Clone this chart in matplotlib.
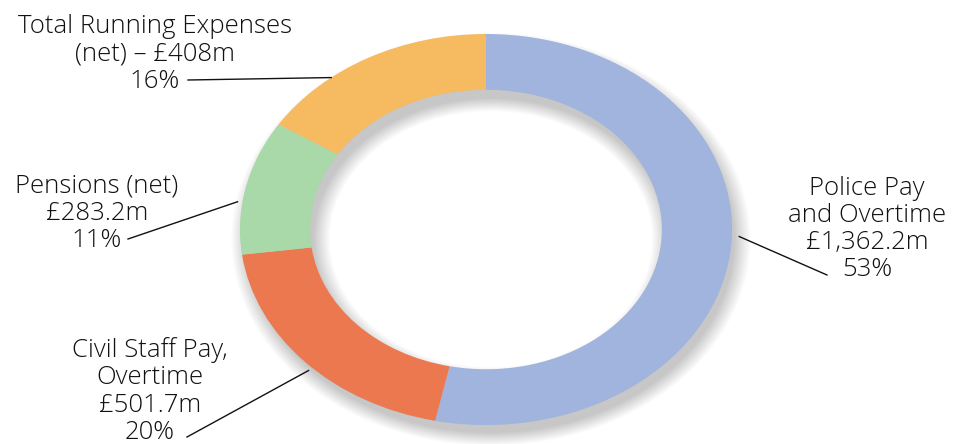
import matplotlib.pyplot as plt
import numpy as np

# Spending breakdown (£m)
labels = ['Police Pay\nand Overtime\n£1,362.2m\n53%',
          'Civil Staff Pay,\nOvertime\n£501.7m\n20%',
          'Pensions (net)\n£283.2m\n11%',
          'Total Running Expenses\n(net) – £408m\n16%']
values = [1362.2, 501.7, 283.2, 408.0]
colors = ['#A0B4DE', '#EC7850', '#A9D9A9', '#F6BB60']

plt.rcParams['font.family'] = ['Open Sans', 'DejaVu Sans']

fig = plt.figure(figsize=(9.62, 4.44), dpi=100)
ax = fig.add_axes([0, 0, 1, 1])

# soft drop shadow: grey rings shifted down-right
for i in range(14):
    ax.pie([1], radius=0.99 + 0.005 * i, startangle=90, colors=['#000000'],
           center=(0.02, -0.05),
           wedgeprops=dict(width=0.27 + 0.01 * i, alpha=0.014, linewidth=0))

wedges, _ = ax.pie(values, radius=1.0, startangle=90, counterclock=False,
                   colors=colors, wedgeprops=dict(width=0.285, linewidth=0))
for w in wedges:
    w.set_zorder(3)

# faint bevel shading along both edges of the ring
for k in range(4):
    for r0 in (1.0, 0.715 + 0.012 * (k + 1)):
        ax.pie([1], radius=r0 - 0.006 * k if r0 == 1.0 else r0, startangle=90,
               colors=['#000000'],
               wedgeprops=dict(width=0.012, alpha=0.035, linewidth=0))

# labels and leader lines (pixel layout converted to data units)
cx, cy, rx, ry = 486, 229.5, 246, 195.5
def to_data(px, py):
    return (px - cx) / rx, (cy - py) / ry

text_pos = [(867, 229), (150, 391), (97, 213), (155, 54)]
leader_angle = [-2, -135, 172, 129]
leader_r = [1.03, 1.02, 1.02, 1.0]
leader_end = [(827, 275), (187, 437), (128, 239), (188, 80)]

for lab, (tx, ty), a, r, (ex, ey) in zip(labels, text_pos, leader_angle, leader_r, leader_end):
    x, y = to_data(tx, ty)
    ax.text(x, y, lab, ha='center', va='center', fontsize=18.5,
            linespacing=1.11, color='#111111', fontweight='light', zorder=5)
    x0, y0 = r * np.cos(np.radians(a)), r * np.sin(np.radians(a))
    x1, y1 = to_data(ex, ey)
    ax.plot([x0, x1], [y0, y1], color='#111111', lw=1.0, zorder=4)

ax.set_aspect('auto')
ax.set_xlim(-cx / rx, (962 - cx) / rx)
ax.set_ylim((cy - 444) / ry, cy / ry)
ax.axis('off')

fig.savefig('out.png', dpi=100)
